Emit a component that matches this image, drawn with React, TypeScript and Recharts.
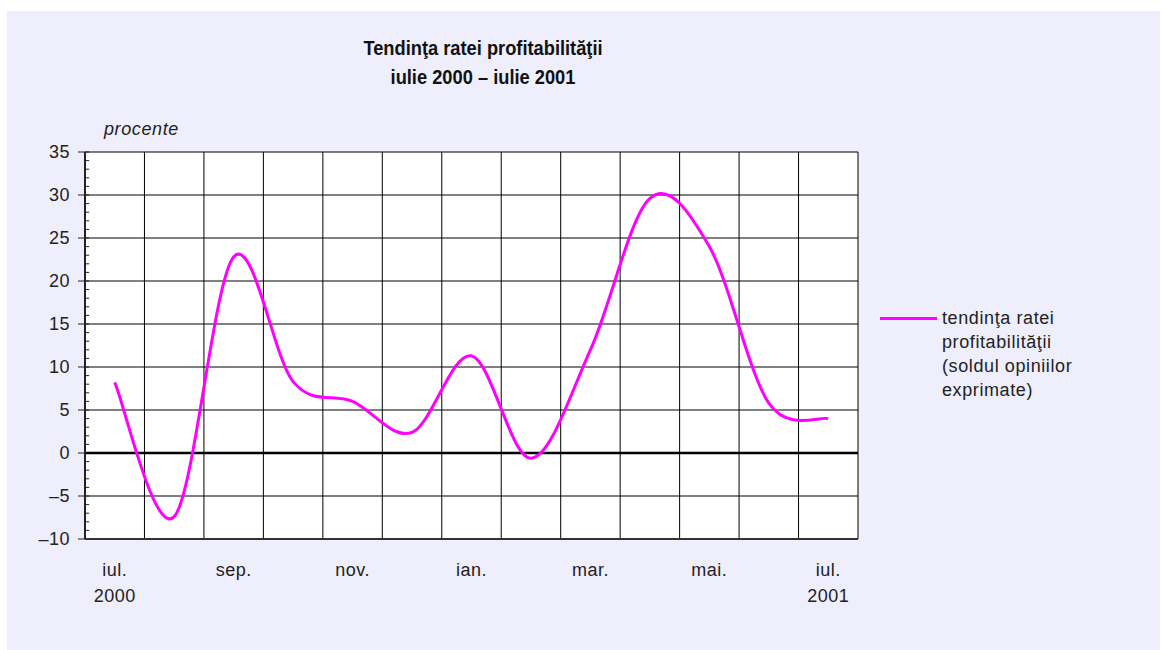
import { CartesianGrid, Line, LineChart, ReferenceLine, XAxis, YAxis } from "recharts";

const months = ["iul.", "aug.", "sep.", "oct.", "nov.", "dec.", "ian.", "feb.", "mar.", "apr.", "mai.", "iun.", "iul."];
const years = ["2000", "", "", "", "", "", "", "", "", "", "", "", "2001"];
const profitTrend = [8.2, -7.4, 22.8, 8.3, 6, 2.4, 11.3, -0.6, 12, 29.6, 24, 5.8, 4];
const labelledMonths = [0, 2, 4, 6, 8, 10, 12];
const yTicks = [-10, -5, 0, 5, 10, 15, 20, 25, 30, 35];
const minorTicks = Array.from({ length: 46 }, (_, i) => i - 10);
const monthEdges = [1, 2, 3, 4, 5, 6, 7, 8, 9, 10, 11, 12, 13];

const rows = months.map((m, i) => ({ pos: i + 0.5, month: m, value: profitTrend[i] }));

const FONT = "'Liberation Sans', Arial, Helvetica, sans-serif";
const MAGENTA = "#FF00FF";
const TEXT = "#222";

// Excel-style smoothed line (bezier with catmull-rom tangents)
function excelCurve(context: any) {
  let pts: number[][] = [];
  return {
    areaStart() {},
    areaEnd() {},
    lineStart() {
      pts = [];
    },
    lineEnd() {
      if (!pts.length) return;
      context.moveTo(pts[0][0], pts[0][1]);
      for (let i = 0; i < pts.length - 1; i++) {
        const p0 = pts[Math.max(0, i - 1)];
        const p1 = pts[i];
        const p2 = pts[i + 1];
        const p3 = pts[Math.min(pts.length - 1, i + 2)];
        context.bezierCurveTo(
          p1[0] + (p2[0] - p0[0]) / 6,
          p1[1] + (p2[1] - p0[1]) / 6,
          p2[0] - (p3[0] - p1[0]) / 6,
          p2[1] - (p3[1] - p1[1]) / 6,
          p2[0],
          p2[1]
        );
      }
    },
    point(x: number, y: number) {
      pts.push([+x, +y]);
    },
  };
}

function MonthTick({ x, y, payload }: any) {
  const i = Math.round(payload.value - 0.5);
  return (
    <g>
      <text x={x} y={y + 29} textAnchor="middle" fontSize={18} letterSpacing={0.5} fill={TEXT} fontFamily={FONT}>
        {months[i]}
      </text>
      {years[i] && (
        <text x={x} y={y + 55} textAnchor="middle" fontSize={18} letterSpacing={0.5} fill={TEXT} fontFamily={FONT}>
          {years[i]}
        </text>
      )}
    </g>
  );
}

export default function App() {
  return (
    <div
      style={{
        position: "absolute",
        left: 7,
        top: 11,
        width: 1153,
        height: 639,
        background: "#EEEEFC",
        fontFamily: FONT,
      }}
    >
      <div
        style={{
          position: "absolute",
          left: 276,
          width: 400,
          top: 22,
          textAlign: "center",
          fontWeight: "bold",
          fontSize: 21,
          lineHeight: "29px",
          color: "#111",
          transform: "scaleX(0.87)",
          transformOrigin: "center",
        }}
      >
        Tendinţa ratei profitabilităţii
        <br />
        iulie 2000 – iulie 2001
      </div>
      <div
        style={{
          position: "absolute",
          left: 97,
          top: 108,
          fontStyle: "italic",
          fontSize: 18,
          letterSpacing: 0.6,
          color: TEXT,
        }}
      >
        procente
      </div>
      <LineChart width={1153} height={639} data={rows} margin={{ top: 141, right: 302, bottom: 51, left: 0 }}>
        <CartesianGrid vertical={false} stroke="#000" strokeWidth={1} fill="#FFFFFF" />
        <XAxis
          dataKey="pos"
          type="number"
          domain={[0, 13]}
          ticks={labelledMonths.map((i) => i + 0.5)}
          tick={<MonthTick />}
          tickLine={false}
          axisLine={{ stroke: "#333", strokeWidth: 2 }}
          height={60}
          interval={0}
        />
        <YAxis
          type="number"
          domain={[-10, 35]}
          ticks={yTicks}
          width={78}
          tickSize={7}
          tickMargin={8}
          tickLine={{ stroke: TEXT }}
          axisLine={{ stroke: TEXT, strokeWidth: 2 }}
          tick={{ fontSize: 18, fill: TEXT, fontFamily: FONT, letterSpacing: 0.5 }}
          tickFormatter={(v: number) => String(v).replace("-", "–")}
          interval={0}
        />
        {monthEdges.map((e) => (
          <ReferenceLine key={e} x={e} stroke="#000" strokeWidth={1} />
        ))}
        {minorTicks.map((v) => (
          <ReferenceLine
            key={"m" + v}
            segment={[
              { x: 0, y: v },
              { x: 0.07, y: v },
            ]}
            stroke={TEXT}
            strokeWidth={1}
          />
        ))}
        <ReferenceLine y={0} stroke="#000" strokeWidth={2.5} />
        <Line
          dataKey="value"
          type={excelCurve as any}
          stroke={MAGENTA}
          strokeWidth={3}
          dot={false}
          isAnimationActive={false}
        />
      </LineChart>
      <div style={{ position: "absolute", left: 873, top: 306, width: 57, height: 3, background: MAGENTA }} />
      <div
        style={{
          position: "absolute",
          left: 935,
          top: 295,
          fontSize: 18,
          letterSpacing: 0.6,
          lineHeight: "24px",
          color: TEXT,
        }}
      >
        tendinţa ratei
        <br />
        profitabilităţii
        <br />
        (soldul opiniilor
        <br />
        exprimate)
      </div>
    </div>
  );
}
